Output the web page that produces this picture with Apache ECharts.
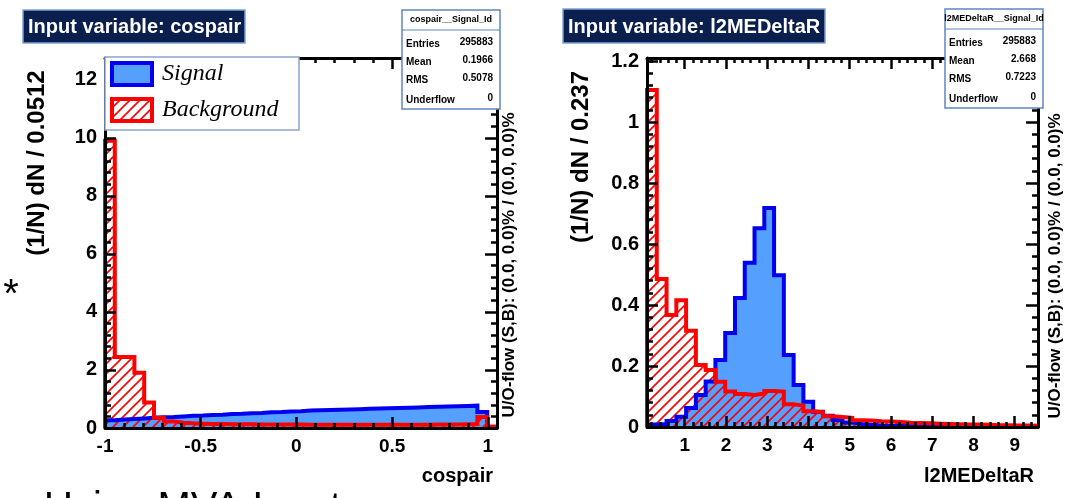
<!DOCTYPE html>
<html><head><meta charset="utf-8">
<script src="https://cdn.jsdelivr.net/npm/echarts@6/dist/echarts.min.js"></script>
<style>html,body{margin:0;padding:0;background:#fff}#c{width:1067px;height:498px}</style>
</head><body><div id="c"></div>
<script>
// ---------------- data ----------------
const cosMin = -1, cosBinWidth = 0.0512, cosMax = 1.048;
const cosSignal = [0.27,0.29,0.31,0.33,0.35,0.37,0.38,0.40,0.42,0.43,0.45,0.46,0.48,0.49,0.51,0.52,0.54,0.55,0.57,0.58,0.60,0.61,0.62,0.63,0.64,0.65,0.66,0.67,0.68,0.69,0.70,0.71,0.72,0.73,0.74,0.75,0.76,0.77,0.55,0.04];
const cosBackground = [9.9,2.45,2.45,1.9,0.88,0.35,0.22,0.18,0.16,0.15,0.14,0.14,0.13,0.13,0.13,0.12,0.12,0.12,0.12,0.12,0.11,0.11,0.11,0.11,0.11,0.11,0.11,0.11,0.11,0.11,0.11,0.11,0.11,0.12,0.12,0.12,0.13,0.14,0.38,0.04];
const drMin = 0.085, drBinWidth = 0.237, drMax = 9.565;
const drSignal = [0.008,0.01,0.02,0.034,0.062,0.105,0.149,0.22,0.308,0.423,0.539,0.652,0.718,0.498,0.236,0.138,0.083,0.05,0.037,0.023,0.015,0.01,0.007,0.005,0.004,0.003,0.003,0.002,0.002,0.002,0.001,0.001,0.001,0.001,0.001,0,0,0,0,0];
const drBackground = [1.105,0.485,0.367,0.416,0.316,0.203,0.187,0.148,0.116,0.108,0.105,0.11,0.118,0.116,0.075,0.07,0.052,0.048,0.035,0.033,0.03,0.022,0.021,0.019,0.018,0.016,0.014,0.013,0.012,0.011,0.01,0.009,0.008,0.008,0.007,0.006,0.006,0.005,0.005,0.004];

const cosXTicks = [-1,-0.5,0,0.5,1];
const cosYTicks = [0,2,4,6,8,10,12];
const drXTicks = [1,2,3,4,5,6,7,8,9];
const drYTicks = [0,0.2,0.4,0.6,0.8,1,1.2];

const statsCos = {title:'cospair__Signal_Id', rows:[['Entries','295883'],['Mean','0.1966'],['RMS','0.5078'],['Underflow','0']]};
const statsDr  = {title:'l2MEDeltaR__Signal_Id', rows:[['Entries','295883'],['Mean','2.668'],['RMS','0.7223'],['Underflow','0']]};
const uoText = 'U/O-flow (S,B): (0.0, 0.0)% / (0.0, 0.0)%';

// ---------------- helpers ----------------
function minorTicks(from, to, step, majors){
  const out=[]; const n=Math.round((to-from)/step);
  for(let i=0;i<=n;i++){ const v=+(from+i*step).toFixed(6);
    if(!majors.some(m=>Math.abs(m-v)<1e-9)) out.push(v); }
  return out;
}
function stepData(min,w,vals){
  const d=[[min,0]];
  vals.forEach((v,i)=>d.push([+(min+i*w).toFixed(6),v]));
  const end=+(min+vals.length*w).toFixed(6);
  d.push([end,vals[vals.length-1]]); d.push([end,0]);
  return d;
}
function hatchCanvas(){
  const c=document.createElement('canvas'); c.width=10; c.height=10;
  const g=c.getContext('2d'); g.strokeStyle='#ff0000'; g.lineWidth=1.6;
  g.beginPath(); g.moveTo(-2,12); g.lineTo(12,-2); g.moveTo(-3,3); g.lineTo(3,-3); g.moveTo(7,13); g.lineTo(13,7); g.stroke();
  return c;
}
const hatch={image:hatchCanvas(),repeat:'repeat'};
const FF='"Liberation Sans", Arial, sans-serif';
const BLUE='#0000f0', FILL='#55a0ff', RED='#ff0000';

const xAxes=[], yAxes=[];
function addAxes(gi, xmin,xmax,xMaj,xMin, ymin,ymax,yMaj,yMin){
  const base={type:'value',gridIndex:gi,splitLine:{show:false},z:5};
  const line={show:true,onZero:false,lineStyle:{color:'#000',width:3}};
  const lab={show:true,color:'#000',fontWeight:'bold',fontFamily:FF};
  const xi=xAxes.length;
  xAxes.push(Object.assign({},base,{min:xmin,max:xmax,position:'bottom',axisLine:line,
    axisTick:{show:true,inside:true,length:11,customValues:xMaj,lineStyle:{color:'#000',width:2.5}},
    axisLabel:Object.assign({},lab,{customValues:xMaj,margin:9,fontSize:19})}));
  xAxes.push(Object.assign({},base,{min:xmin,max:xmax,position:'bottom',axisLine:{show:false,onZero:false},
    axisTick:{show:true,inside:true,length:5,customValues:xMin,lineStyle:{color:'#000',width:2.5}},axisLabel:{show:false}}));
  xAxes.push(Object.assign({},base,{min:xmin,max:xmax,position:'top',axisLine:line,
    axisTick:{show:true,inside:true,length:11,customValues:xMaj,lineStyle:{color:'#000',width:2.5}},axisLabel:{show:false}}));
  xAxes.push(Object.assign({},base,{min:xmin,max:xmax,position:'top',axisLine:{show:false,onZero:false},
    axisTick:{show:true,inside:true,length:5,customValues:xMin,lineStyle:{color:'#000',width:2.5}},axisLabel:{show:false}}));
  const yi=yAxes.length;
  yAxes.push(Object.assign({},base,{min:ymin,max:ymax,position:'left',axisLine:line,
    axisTick:{show:true,inside:true,length:11,customValues:yMaj,lineStyle:{color:'#000',width:2.5}},
    axisLabel:Object.assign({},lab,{customValues:yMaj,margin:8,fontSize:20})}));
  yAxes.push(Object.assign({},base,{min:ymin,max:ymax,position:'left',axisLine:{show:false,onZero:false},
    axisTick:{show:true,inside:true,length:6,customValues:yMin,lineStyle:{color:'#000',width:2.5}},axisLabel:{show:false}}));
  yAxes.push(Object.assign({},base,{min:ymin,max:ymax,position:'right',axisLine:line,
    axisTick:{show:true,inside:true,length:12,customValues:yMaj,lineStyle:{color:'#000',width:2.5}},axisLabel:{show:false}}));
  yAxes.push(Object.assign({},base,{min:ymin,max:ymax,position:'right',axisLine:{show:false,onZero:false},
    axisTick:{show:true,inside:true,length:6,customValues:yMin,lineStyle:{color:'#000',width:2.5}},axisLabel:{show:false}}));
  return {xi,yi};
}
const a1=addAxes(0,cosMin,cosMax,cosXTicks,minorTicks(-1,1,0.1,cosXTicks),0,12.75,cosYTicks,minorTicks(0,12.4,0.4,cosYTicks));
const a2=addAxes(1,drMin,drMax,drXTicks,minorTicks(0.2,9.4,0.2,drXTicks),0,1.21,drYTicks,minorTicks(0,1.2,0.04,drYTicks));

function histSeries(name,ax,data,fill,stroke){
  return {type:'line',name,xAxisIndex:ax.xi,yAxisIndex:ax.yi,data,step:'end',symbol:'none',
    lineStyle:{color:stroke,width:4,join:'miter',cap:'butt'},areaStyle:{color:fill,opacity:1},
    itemStyle:{color:stroke},animation:false,silent:true,z:2};
}

// ---------------- graphics ----------------
const G=[];
function titleBox(x,y,w,h,text){
  G.push({type:'rect',shape:{x,y,width:w,height:h},style:{fill:'#0a1f4e',stroke:'#7fa2d6',lineWidth:1.5},z:100});
  G.push({type:'text',x:x+5,y:y+h/2+1,style:{text,fill:'#fff',font:'bold 20px '+FF,textVerticalAlign:'middle'},z:101});
}
function statsBox(x,y,s){
  const w=98,h=99;
  G.push({type:'rect',shape:{x,y,width:w,height:h},style:{fill:'#fff',stroke:'#5f86c0',lineWidth:1.5},z:100});
  G.push({type:'text',x:x+w/2,y:y+10,style:{text:s.title,fill:'#000',font:'bold 9px '+FF,textAlign:'center',textVerticalAlign:'middle'},z:101});
  G.push({type:'line',shape:{x1:x,y1:y+20,x2:x+w,y2:y+20},style:{stroke:'#5f86c0',lineWidth:1.2},z:101});
  const ys=[34,52,70,90];
  s.rows.forEach((r,i)=>{
    G.push({type:'text',x:x+4,y:y+ys[i],style:{text:r[0],fill:'#000',font:'bold 10px '+FF,textVerticalAlign:'middle'},z:101});
    G.push({type:'text',x:x+w-7,y:y+ys[i]-2,style:{text:r[1],fill:'#000',font:'bold 10px '+FF,textAlign:'right',textVerticalAlign:'middle'},z:101});
  });
}
function vtext(x,y,text,font){
  G.push({type:'text',x,y,rotation:Math.PI/2,style:{text,fill:'#000',font,textAlign:'center',textVerticalAlign:'middle'},z:101});
}
titleBox(23,10,222,33,'Input variable: cospair');
titleBox(563,9,262,34,'Input variable: l2MEDeltaR');
statsBox(402,10,statsCos);
statsBox(945,9,statsDr);
// legend
G.push({type:'rect',shape:{x:105,y:57,width:194,height:73},style:{fill:'#fff',stroke:'#8aa4cc',lineWidth:1.5},z:100});
G.push({type:'rect',shape:{x:112,y:63,width:40,height:22},style:{fill:FILL,stroke:BLUE,lineWidth:4},z:101});
G.push({type:'rect',shape:{x:112,y:99,width:40,height:22},style:{fill:hatch,stroke:RED,lineWidth:4},z:101});
G.push({type:'text',x:162,y:74,style:{text:'Signal',fill:'#000',font:'italic 24px "Liberation Serif", "Times New Roman", serif',textVerticalAlign:'middle'},z:101});
G.push({type:'text',x:162,y:110,style:{text:'Background',fill:'#000',font:'italic 24px "Liberation Serif", "Times New Roman", serif',textVerticalAlign:'middle'},z:101});
// axis titles
vtext(37,163,'(1/N) dN / 0.0512','bold 24px '+FF);
vtext(581,157,'(1/N) dN / 0.237','bold 24px '+FF);
vtext(509,265,uoText,'bold 17px '+FF);
vtext(1055,266,uoText,'bold 17px '+FF);
G.push({type:'text',x:493,y:476,style:{text:'cospair',fill:'#000',font:'bold 20px '+FF,textAlign:'right',textVerticalAlign:'middle'},z:101});
G.push({type:'text',x:1034,y:476,style:{text:'l2MEDeltaR',fill:'#000',font:'bold 20px '+FF,textAlign:'right',textVerticalAlign:'middle'},z:101});
// slide remnants
G.push({type:'text',x:11,y:296,style:{text:'*',fill:'#000',font:'40px '+FF,textAlign:'center',textVerticalAlign:'middle'},z:101});
G.push({type:'text',x:44,y:509,style:{text:'Using MVA Input',fill:'#000',font:'40px '+FF,textVerticalAlign:'middle'},z:101});

const chart=echarts.init(document.getElementById('c'),null,{renderer:'canvas'});
chart.setOption({
  animation:false,
  backgroundColor:'#fff',
  grid:[{left:105,top:58,width:392,height:370},{left:647,top:58,width:391,height:369}],
  xAxis:xAxes, yAxis:yAxes,
  series:[
    histSeries('Signal',a1,stepData(cosMin,cosBinWidth,cosSignal),FILL,BLUE),
    histSeries('Background',a1,stepData(cosMin,cosBinWidth,cosBackground),hatch,RED),
    histSeries('Signal',a2,stepData(drMin,drBinWidth,drSignal),FILL,BLUE),
    histSeries('Background',a2,stepData(drMin,drBinWidth,drBackground),hatch,RED)
  ],
  graphic:G
});
</script></body></html>
